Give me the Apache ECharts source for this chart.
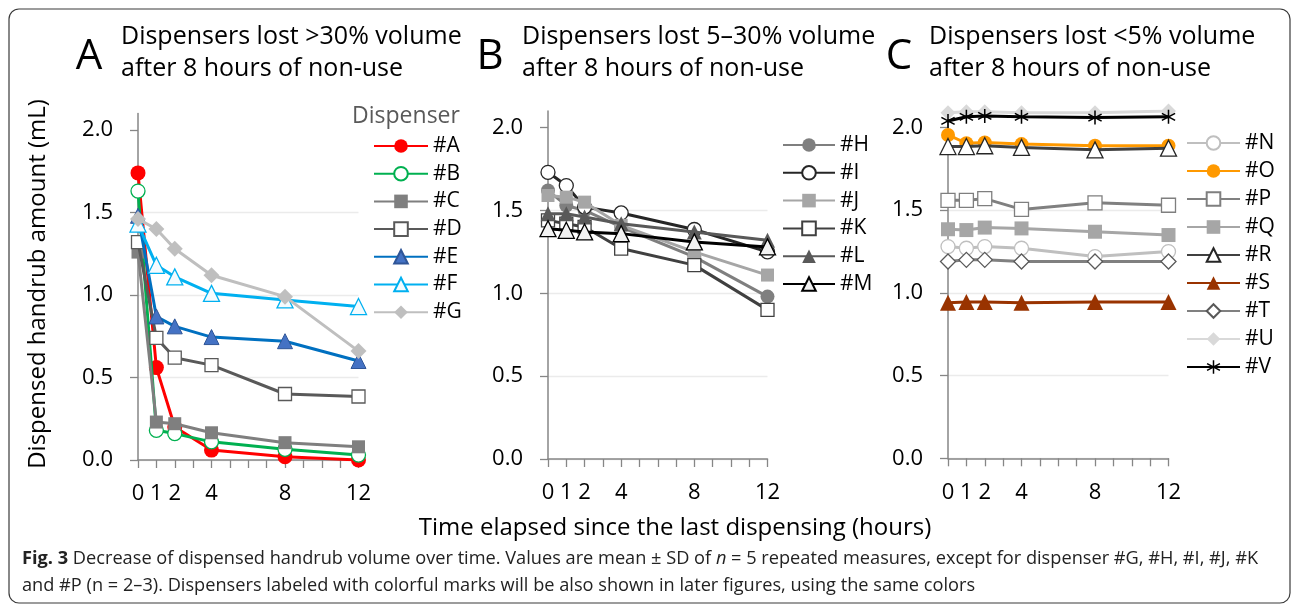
<!DOCTYPE html>
<html>
<head>
<meta charset="utf-8">
<script src="https://cdn.jsdelivr.net/npm/echarts@6/dist/echarts.min.js"></script>
<style>
html,body{margin:0;padding:0;background:#fff;}
#c{width:1292px;height:607px;}
</style>
</head>
<body>
<div id="c"></div>
<script>
// ---------- DATA ----------
const times = [0, 1, 2, 4, 8, 12];
const xTickLabels = [0, 1, 2, 4, 8, 12];
const yTickValues = [0, 0.5, 1.0, 1.5, 2.0];

// Panel A: dispensers lost >30% volume
const valA = [1.74, 0.56, 0.20, 0.06, 0.02, 0.00];
const valB = [1.63, 0.18, 0.16, 0.11, 0.065, 0.03];
const valC = [1.26, 0.23, 0.22, 0.165, 0.105, 0.08];
const valD = [1.32, 0.74, 0.62, 0.575, 0.40, 0.385];
const valE = [1.48, 0.87, 0.81, 0.745, 0.72, 0.60];
const valF = [1.43, 1.18, 1.11, 1.01, 0.97, 0.93];
const valG = [1.46, 1.40, 1.28, 1.12, 0.99, 0.66];

// Panel B: dispensers lost 5-30% volume
const valH = [1.62, 1.53, 1.50, 1.40, 1.22, 0.98];
const valI = [1.73, 1.65, 1.52, 1.485, 1.385, 1.25];
const valJ = [1.59, 1.58, 1.55, 1.41, 1.25, 1.11];
const valK = [1.44, 1.42, 1.40, 1.27, 1.17, 0.90];
const valL = [1.48, 1.48, 1.46, 1.42, 1.37, 1.32];
const valM = [1.39, 1.38, 1.37, 1.36, 1.31, 1.28];

// Panel C: dispensers lost <5% volume
const valN = [1.28, 1.27, 1.28, 1.27, 1.22, 1.25];
const valO = [1.955, 1.905, 1.91, 1.90, 1.89, 1.89];
const valP = [1.56, 1.56, 1.57, 1.505, 1.545, 1.53];
const valQ = [1.385, 1.38, 1.395, 1.39, 1.37, 1.35];
const valR = [1.885, 1.885, 1.89, 1.88, 1.865, 1.875];
const valS = [0.94, 0.945, 0.945, 0.94, 0.945, 0.945];
const valT = [1.19, 1.20, 1.20, 1.19, 1.19, 1.19];
const valU = [2.09, 2.095, 2.095, 2.09, 2.09, 2.10];
const valV = [2.04, 2.065, 2.07, 2.065, 2.06, 2.065];

const namesA = ['#A', '#B', '#C', '#D', '#E', '#F', '#G'];
const namesB = ['#H', '#I', '#J', '#K', '#L', '#M'];
const namesC = ['#N', '#O', '#P', '#Q', '#R', '#S', '#T', '#U', '#V'];
const valuesA = [valA, valB, valC, valD, valE, valF, valG];
const valuesB = [valH, valI, valJ, valK, valL, valM];
const valuesC = [valN, valO, valP, valQ, valR, valS, valT, valU, valV];

const panelTitles = [
  ['Dispensers lost >30% volume', 'after 8 hours of non-use'],
  ['Dispensers lost 5\u201330% volume', 'after 8 hours of non-use'],
  ['Dispensers lost <5% volume', 'after 8 hours of non-use']
];
const panelLetters = ['A', 'B', 'C'];
const yAxisTitle = 'Dispensed handrub amount (mL)';
const xAxisTitle = 'Time elapsed since the last dispensing (hours)';
const legendTitle = 'Dispenser';

// ---------- STYLES ----------
const STAR = 'path://M9 0 H11 V20 H9 Z M1.84 4.13 L19.16 14.13 L18.16 15.87 L0.84 5.87 Z M0.84 14.13 L18.16 4.13 L19.16 5.87 L1.84 15.87 Z';
// [line color, symbol, fill, border color, border width, size]
const styleMap = {
  '#A': ['#ff0000', 'circle', '#ff0000', '#ff0000', 0, 15],
  '#B': ['#00b050', 'circle', '#ffffff', '#00b050', 1.3, 14],
  '#C': ['#7f7f7f', 'rect', '#7f7f7f', '#7f7f7f', 0, 13],
  '#D': ['#595959', 'rect', '#ffffff', '#595959', 1.3, 13],
  '#E': ['#0070c0', 'triangle', '#4472c4', '#2f5597', 1, 15],
  '#F': ['#00b0f0', 'triangle', '#f4fbfe', '#00b0f0', 1.3, 16],
  '#G': ['#bfbfbf', 'diamond', '#bfbfbf', '#bfbfbf', 0, 16],
  '#H': ['#7f7f7f', 'circle', '#7f7f7f', '#7f7f7f', 0, 14],
  '#I': ['#262626', 'circle', '#ffffff', '#262626', 1.3, 14],
  '#J': ['#a6a6a6', 'rect', '#a6a6a6', '#a6a6a6', 0, 13],
  '#K': ['#404040', 'rect', '#ffffff', '#404040', 1.3, 13],
  '#L': ['#595959', 'triangle', '#595959', '#595959', 0, 15],
  '#M': ['#000000', 'triangle', '#f2f2f2', '#000000', 1.3, 16],
  '#N': ['#bfbfbf', 'circle', '#ffffff', '#bfbfbf', 1.3, 14],
  '#O': ['#ff9900', 'circle', '#ff9900', '#ff9900', 0, 14],
  '#P': ['#808080', 'rect', '#ffffff', '#7f7f7f', 1.3, 14],
  '#Q': ['#a6a6a6', 'rect', '#a6a6a6', '#a6a6a6', 0, 14],
  '#R': ['#404040', 'triangle', '#ffffff', '#262626', 1.3, 16],
  '#S': ['#993300', 'triangle', '#993300', '#993300', 0, 16],
  '#T': ['#808080', 'diamond', '#ffffff', '#595959', 1.3, 15],
  '#U': ['#d9d9d9', 'diamond', '#d9d9d9', '#d9d9d9', 0, 15],
  '#V': ['#000000', STAR, '#000000', '#000000', 0, 14]
};

const FONT = '"Open Sans", "Noto Sans", sans-serif';
const AXIS_COLOR = '#868686';

const grids = [
  { left: 138, top: 113.5, width: 220.5, height: 346.5 },
  { left: 548, top: 111, width: 219.5, height: 348 },
  { left: 948, top: 111, width: 220.5, height: 347.3 }
];

const xAxes = grids.map((g, i) => ({
  type: 'value', gridIndex: i, min: 0, max: 12, interval: 1,
  axisLine: { show: true, lineStyle: { color: AXIS_COLOR, width: 1.5 } },
  axisTick: { show: true, inside: false, length: 8, lineStyle: { color: AXIS_COLOR, width: 1.3 } },
  splitLine: { show: false },
  axisLabel: {
    color: '#000', fontFamily: FONT, fontSize: 22, margin: 23,
    formatter: v => (xTickLabels.indexOf(v) >= 0 ? String(v) : '')
  }
}));

const yAxes = grids.map((g, i) => ({
  type: 'value', gridIndex: i, min: 0, max: 2.1, interval: 0.5,
  axisLine: { show: true, lineStyle: { color: AXIS_COLOR, width: 1.5 } },
  axisTick: { show: true, inside: false, length: 8, customValues: yTickValues, lineStyle: { color: AXIS_COLOR, width: 1.3 } },
  splitLine: { show: true, showMaxLine: false, lineStyle: { color: '#ebebeb', width: 1.3 } },
  axisLabel: {
    color: '#000', fontFamily: FONT, fontSize: 22, margin: 25,
    customValues: yTickValues,
    formatter: v => (v > 2.05 ? '' : v.toFixed(1))
  }
}));

function buildSeries(names, values, idx) {
  return names.map((n, k) => {
    const s = styleMap[n];
    return {
      name: n, type: 'line', xAxisIndex: idx, yAxisIndex: idx,
      data: times.map((t, j) => [t, values[k][j]]),
      symbol: s[1], symbolSize: s[5], showAllSymbol: true,
      lineStyle: { color: s[0], width: 3 },
      itemStyle: { color: s[2], borderColor: s[3], borderWidth: s[4] },
      emphasis: { disabled: true },
      z: 2 + k * 0.01
    };
  });
}

const series = [].concat(
  buildSeries(namesA, valuesA, 0),
  buildSeries(namesB, valuesB, 1),
  buildSeries(namesC, valuesC, 2)
);

function legend(names, left, top, w, gap) {
  return {
    data: names, orient: 'vertical', left: left, top: top,
    itemWidth: w, itemHeight: 17, itemGap: gap, padding: 0,
    selectedMode: false,
    textStyle: { color: '#000', fontFamily: FONT, fontSize: 21, lineHeight: 17, padding: [0, 0, 0, 0] }
  };
}

const graphics = [
  { type: 'rect', shape: { x: 9, y: 9, width: 1281, height: 594, r: 10 },
    style: { fill: 'none', stroke: '#3a3a3a', lineWidth: 1.2 } }
];
const letterX = [89, 490, 899];
const titleX = [121, 522, 929];
panelLetters.forEach((L, i) => {
  graphics.push({ type: 'text', x: letterX[i], y: 57,
    style: { text: L, fontFamily: FONT, fontSize: 42, fill: '#000', textAlign: 'center', textVerticalAlign: 'middle' } });
  graphics.push({ type: 'text', x: titleX[i], y: 37,
    style: { text: panelTitles[i][0], fontFamily: FONT, fontSize: 25, fill: '#000', textAlign: 'left', textVerticalAlign: 'middle' } });
  graphics.push({ type: 'text', x: titleX[i], y: 69,
    style: { text: panelTitles[i][1], fontFamily: FONT, fontSize: 25, fill: '#000', textAlign: 'left', textVerticalAlign: 'middle' } });
});
graphics.push({ type: 'text', x: 38, y: 284, rotation: Math.PI / 2,
  style: { text: yAxisTitle, fontFamily: FONT, fontSize: 24, fill: '#000', textAlign: 'center', textVerticalAlign: 'middle' } });
graphics.push({ type: 'text', x: 675, y: 528,
  style: { text: xAxisTitle, fontFamily: FONT, fontSize: 24, fill: '#000', textAlign: 'center', textVerticalAlign: 'middle' } });
graphics.push({ type: 'text', x: 406, y: 116,
  style: { text: legendTitle, fontFamily: FONT, fontSize: 23, fill: '#595959', textAlign: 'center', textVerticalAlign: 'middle' } });
graphics.push({ type: 'text', x: 22, y: 559,
  style: {
    text: '{b|Fig. 3} Decrease of dispensed handrub volume over time. Values are mean \u00b1 SD of {i|n} = 5 repeated measures, except for dispenser #G, #H, #I, #J, #K',
    fontFamily: FONT, fontSize: 18.2, fill: '#222', textAlign: 'left', textVerticalAlign: 'middle',
    rich: {
      b: { fontFamily: FONT, fontSize: 18.2, fontWeight: 'bold', fill: '#222' },
      i: { fontFamily: FONT, fontSize: 18.2, fontStyle: 'italic', fill: '#222' }
    }
  } });
graphics.push({ type: 'text', x: 22, y: 586,
  style: {
    text: 'and #P (n = 2\u20133). Dispensers labeled with colorful marks will be also shown in later figures, using the same colors',
    fontFamily: FONT, fontSize: 18.2, fill: '#222', textAlign: 'left', textVerticalAlign: 'middle'
  } });

const option = {
  animation: false,
  backgroundColor: '#fff',
  grid: grids,
  xAxis: xAxes,
  yAxis: yAxes,
  legend: [
    legend(namesA, 373, 135.5, 54, 6.7),
    legend(namesB, 782, 134.5, 52, 6.8),
    legend(namesC, 1186, 132.5, 53, 7)
  ],
  series: series,
  graphic: graphics
};

const chart = echarts.init(document.getElementById('c'), null, { renderer: 'canvas' });
chart.setOption(option);
</script>
</body>
</html>
